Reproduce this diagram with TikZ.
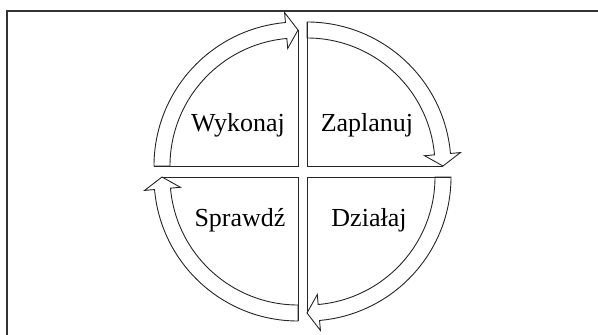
\documentclass[tikz,border=0pt]{standalone}
\usepackage{fontspec}
\setmainfont{Liberation Serif}
\begin{document}
\begin{tikzpicture}[x=1pt,y=1pt,
  band/.style={draw=black!85, line width=0.9pt, line join=miter},
  frameline/.style={draw=black!80, line width=1.2pt},
  lbl/.style={font=\fontsize{26}{30}\selectfont, anchor=base, inner sep=0pt}]
\useasboundingbox (0,0) rectangle (598,335);
\coordinate (fbl) at (7,0);
\coordinate (ftl) at (7,324);
\coordinate (ftr) at (598,324);
\draw[frameline] (fbl) -- (ftl) -- (ftr);
% top-left (Wykonaj)
\begin{scope}[shift={(298,169)}]
\draw[band] (180:144) arc[start angle=180,end angle=95,radius=144] -- (95:154) -- (90:136) -- (95:118) -- (95:128) arc[start angle=95,end angle=180,radius=128] -- cycle;
\draw[band] (180:144) -- (0,0) -- (90:136);
\end{scope}
% top-right (Zaplanuj)
\begin{scope}[shift={(307,169)}]
\draw[band] (90:144) arc[start angle=90,end angle=5,radius=144] -- (5:154) -- (0:136) -- (5:118) -- (5:128) arc[start angle=5,end angle=90,radius=128] -- cycle;
\draw[band] (90:144) -- (0,0) -- (0:136);
\end{scope}
% bottom-right (Dzialaj)
\begin{scope}[shift={(307,158)}]
\draw[band] (0:144) arc[start angle=0,end angle=-85,radius=144] -- (-85:154) -- (-90:136) -- (-85:118) -- (-85:128) arc[start angle=-85,end angle=0,radius=128] -- cycle;
\draw[band] (0:144) -- (0,0) -- (-90:136);
\end{scope}
% bottom-left (Sprawdz)
\begin{scope}[shift={(298,158)}]
\draw[band] (-90:144) arc[start angle=-90,end angle=-175,radius=144] -- (-175:154) -- (-180:136) -- (-175:118) -- (-175:128) arc[start angle=-175,end angle=-90,radius=128] -- cycle;
\draw[band] (-90:144) -- (0,0) -- (180:136);
\end{scope}
\node[lbl] (wyk) at (238,203.3) {Wykonaj};
\node[lbl] (zap) at (367,203.3) {Zaplanuj};
\node[lbl] (spr) at (240,108.3) {Sprawdź};
\node[lbl] (dzi) at (369,108.3) {Działaj};
\end{tikzpicture}
\end{document}
